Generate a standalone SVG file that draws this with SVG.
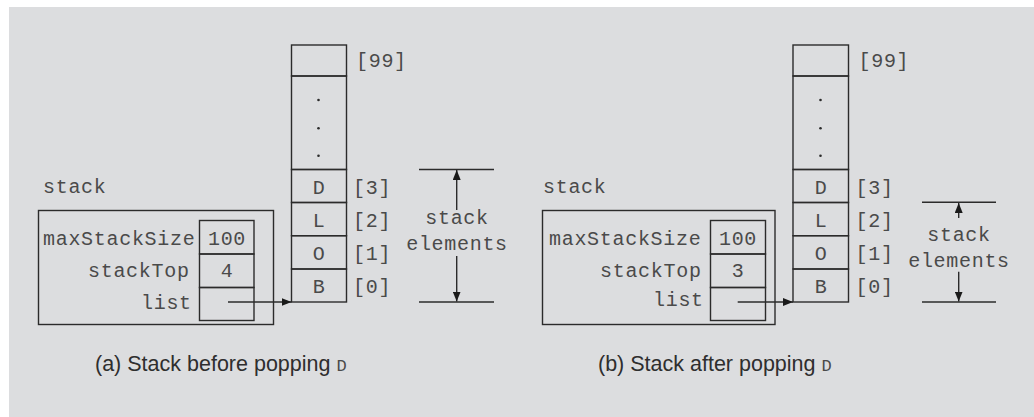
<svg xmlns="http://www.w3.org/2000/svg" width="1034" height="417" viewBox="0 0 1034 417">
<style>
.bg{fill:#dcdddf}
.box{fill:none;stroke:#2b2b2b;stroke-width:1.4}
.ln{stroke:#2b2b2b;stroke-width:1.4;fill:none}
.m{font-family:"Liberation Mono","Courier New",monospace;font-size:20px;letter-spacing:0.7px;fill:#4a4a4a}
.c{text-anchor:middle}
.cap{font-family:"Liberation Sans",Arial,sans-serif;font-size:21.5px;fill:#2e2e2e}
.capm{font-family:"Liberation Mono","Courier New",monospace;font-size:17px;fill:#4a4a4a}
.dot{fill:#2b2b2b}
</style>
<defs>
<marker id="ah" markerUnits="userSpaceOnUse" markerWidth="10" markerHeight="8" refX="10" refY="4" orient="auto">
<path d="M0,0 L10,4 L0,8 z" fill="#1a1a1a"/>
</marker>
</defs>
<rect class="bg" x="9" y="7" width="1025" height="410"/>

<!-- Panel (a) -->
<g id="a-record">
<text class="m" x="43" y="193">stack</text>
<rect class="box" x="38.5" y="210.5" width="235" height="114"/>
<rect class="box" x="199.5" y="220.5" width="54.5" height="33.5"/>
<rect class="box" x="199.5" y="254" width="54.5" height="33.5"/>
<rect class="box" x="199.5" y="287.5" width="54.5" height="33"/>
<text class="m" x="43" y="245">maxStackSize</text>
<text class="m" x="88" y="277">stackTop</text>
<text class="m" x="141" y="309">list</text>
<text class="m c" x="227" y="245">100</text>
<text class="m c" x="227" y="277">4</text>
</g>
<g id="a-array">
<rect class="box" x="291.5" y="45" width="55" height="31"/>
<rect class="box" x="291.5" y="76" width="55" height="93.5"/>
<rect class="box" x="291.5" y="169.5" width="55" height="33"/>
<rect class="box" x="291.5" y="202.5" width="55" height="33.2"/>
<rect class="box" x="291.5" y="235.7" width="55" height="33.3"/>
<rect class="box" x="291.5" y="269" width="55" height="33"/>
<circle class="dot" cx="318.5" cy="100" r="1.3"/>
<circle class="dot" cx="318.5" cy="128.3" r="1.3"/>
<circle class="dot" cx="318.5" cy="155.7" r="1.3"/>
<text class="m c" x="319" y="194">D</text>
<text class="m c" x="319" y="227">L</text>
<text class="m c" x="319" y="260">O</text>
<text class="m c" x="319" y="293">B</text>
<text class="m" x="356" y="67">[99]</text>
<text class="m" x="353" y="194">[3]</text>
<text class="m" x="353" y="227">[2]</text>
<text class="m" x="353" y="260">[1]</text>
<text class="m" x="353" y="293">[0]</text>
</g>
<g id="a-elements">
<text class="m c" x="457" y="224">stack</text>
<text class="m c" x="457" y="250">elements</text>
</g>
<g id="a-caption">
<text class="cap" x="95" y="371">(a) Stack before popping <tspan class="capm">D</tspan></text>
</g>

<!-- Panel (b) -->
<g id="b-record">
<text class="m" x="543" y="193">stack</text>
<rect class="box" x="542.5" y="210.5" width="232.5" height="114"/>
<rect class="box" x="710.5" y="220.5" width="55" height="33.5"/>
<rect class="box" x="710.5" y="254" width="55" height="33.5"/>
<rect class="box" x="710.5" y="287.5" width="55" height="33"/>
<text class="m" x="549" y="245">maxStackSize</text>
<text class="m" x="600" y="277">stackTop</text>
<text class="m" x="653" y="306">list</text>
<text class="m c" x="738" y="245">100</text>
<text class="m c" x="738" y="277">3</text>
</g>
<g id="b-array">
<rect class="box" x="793" y="45" width="55.5" height="31"/>
<rect class="box" x="793" y="76" width="55.5" height="93.5"/>
<rect class="box" x="793" y="169.5" width="55.5" height="33"/>
<rect class="box" x="793" y="202.5" width="55.5" height="33.2"/>
<rect class="box" x="793" y="235.7" width="55.5" height="33.3"/>
<rect class="box" x="793" y="269" width="55.5" height="33"/>
<circle class="dot" cx="820.5" cy="100" r="1.3"/>
<circle class="dot" cx="820.5" cy="128.3" r="1.3"/>
<circle class="dot" cx="820.5" cy="155.7" r="1.3"/>
<text class="m c" x="821" y="194">D</text>
<text class="m c" x="821" y="227">L</text>
<text class="m c" x="821" y="260">O</text>
<text class="m c" x="821" y="293">B</text>
<text class="m" x="858.5" y="67">[99]</text>
<text class="m" x="855.5" y="194">[3]</text>
<text class="m" x="855.5" y="227">[2]</text>
<text class="m" x="855.5" y="260">[1]</text>
<text class="m" x="855.5" y="293">[0]</text>
</g>
<g id="b-elements">
<text class="m c" x="959" y="241">stack</text>
<text class="m c" x="959" y="267">elements</text>
</g>
<g id="b-caption">
<text class="cap" x="598" y="371">(b) Stack after popping <tspan class="capm">D</tspan></text>
</g>

<g id="connectors">
<line class="ln" x1="228" y1="302" x2="291.5" y2="302" marker-end="url(#ah)"/>
<line class="ln" x1="419" y1="169.5" x2="494" y2="169.5"/>
<line class="ln" x1="419" y1="302" x2="494" y2="302"/>
<line class="ln" x1="456.7" y1="210" x2="456.7" y2="170" marker-end="url(#ah)"/>
<line class="ln" x1="456.7" y1="256" x2="456.7" y2="301.5" marker-end="url(#ah)"/>
<line class="ln" x1="737.7" y1="302" x2="793" y2="302" marker-end="url(#ah)"/>
<line class="ln" x1="922" y1="202.3" x2="996" y2="202.3"/>
<line class="ln" x1="922" y1="302" x2="996" y2="302"/>
<line class="ln" x1="958.7" y1="218" x2="958.7" y2="203" marker-end="url(#ah)"/>
<line class="ln" x1="958.7" y1="271.7" x2="958.7" y2="301.5" marker-end="url(#ah)"/>
</g>
</svg>
